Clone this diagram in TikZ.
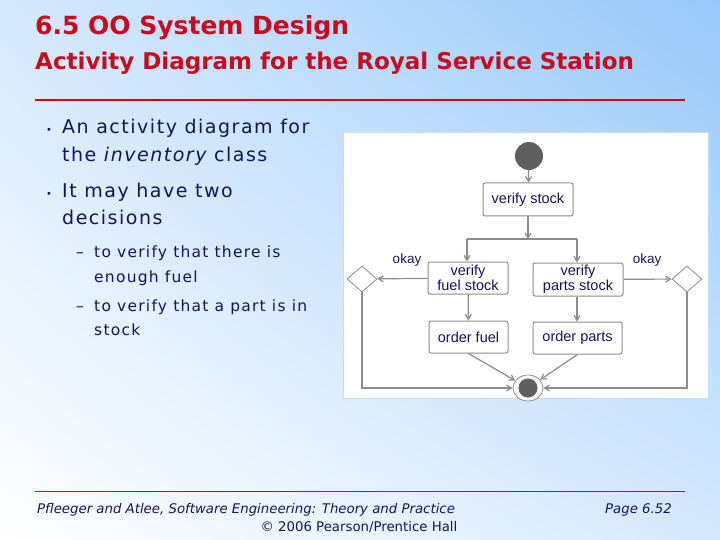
\documentclass[tikz,border=0pt]{standalone}
\usepackage{fontspec}
\setmainfont{DejaVu Sans}
\newfontfamily\arialf{Liberation Sans}
\newfontfamily\spacedf[LetterSpace=8]{DejaVu Sans}
\usetikzlibrary{shapes.geometric,arrows.meta,shadings}
\definecolor{ttl}{RGB}{200,10,30}
\definecolor{navy}{RGB}{20,20,90}
\definecolor{bgblue}{RGB}{150,200,250}
\definecolor{ln}{RGB}{140,140,140}
\definecolor{dk}{RGB}{95,95,95}
\tikzset{
 act/.style={draw=ln,line width=1pt,rounded corners=2pt,fill=white,align=center,font=\arialf\fontsize{14.5}{13}\selectfont,text=navy,inner sep=1pt},
 dec/.style={diamond,draw=ln,line width=0.8pt,fill=white,minimum width=30pt,minimum height=26pt,inner sep=0pt},
 fl/.style={draw=ln,line width=1.2pt,-{Straight Barb[length=5pt,width=6pt]}},
 lnn/.style={draw=ln,line width=1.2pt},
 lbl/.style={font=\arialf\fontsize{13.5}{13}\selectfont,text=navy},
 btxt/.style={anchor=base west,text=navy,font=\spacedf\fontsize{19}{20}\selectfont,inner sep=0pt},
 stxt/.style={anchor=base west,text=navy,font=\spacedf\fontsize{15.5}{17}\selectfont,inner sep=0pt},
 ftxt/.style={text=navy,font=\fontsize{13.3}{14}\selectfont,inner sep=0pt},
}
\begin{document}
\begin{tikzpicture}[x=1pt,y=-1pt]
\useasboundingbox (0,0) rectangle (720,540);
\shade[lower left=white,upper right=bgblue,lower right=white!60!bgblue,upper left=white!60!bgblue] (0,0) rectangle (720,540);
\node[anchor=base west,text=ttl,font=\fontsize{25}{26}\selectfont\bfseries,inner sep=0pt] (t1) at (35,35) {6.5 OO System Design};
\node[anchor=base west,text=ttl,font=\fontsize{23}{24}\selectfont\bfseries,inner sep=0pt] (t2) at (35,70) {Activity Diagram for the Royal Service Station};
\draw[ttl,line width=1.2pt] (35,100) -- (685,100);
\node[btxt] (b1) at (46,134) {\fontsize{10}{10}\selectfont•};
\node[btxt] (b1a) at (62,134) {An activity diagram for};
\node[btxt] (b1b) at (62,162) {the {\itshape inventory} class};
\node[btxt] (b2) at (46,197) {\fontsize{10}{10}\selectfont•};
\node[btxt] (b2a) at (62,197) {It may have two};
\node[btxt] (b2b) at (62,225) {decisions};
\node[stxt] (s1) at (76,258) {–};
\node[stxt] (s1a) at (94,258) {to verify that there is};
\node[stxt] (s1b) at (94,282) {enough fuel};
\node[stxt] (s2) at (76,311) {–};
\node[stxt] (s2a) at (94,311) {to verify that a part is in};
\node[stxt] (s2b) at (94,335) {stock};
% panel
\draw[fill=white,draw=bgblue!60] (343,132) rectangle (708,398);
\node[circle,fill=dk,minimum size=28pt,inner sep=0pt] (st) at (529,156) {};
\node[act,minimum width=90pt,minimum height=33pt] (vs) at (528,199.5) {verify stock};
\coordinate (j) at (528,239);
\coordinate (jl) at (467,239);
\coordinate (jr) at (577,239);
\node[act,minimum width=80pt,minimum height=32pt] (vf) at (468,278) {verify\\fuel stock};
\node[act,minimum width=90pt,minimum height=33pt] (vp) at (578,279.5) {verify\\parts stock};
\node[act,minimum width=79pt,minimum height=32pt] (of) at (468.5,337) {order fuel};
\node[act,minimum width=89pt,minimum height=32pt] (op) at (577.5,338) {order parts};
\node[dec] (dl) at (362,279) {};
\node[dec] (dr) at (687,279) {};
\node[ellipse,draw=ln,line width=0.8pt,fill=white,minimum width=30pt,minimum height=26pt,inner sep=0pt] (en) at (528,388) {};
\node[circle,fill=dk,minimum size=19pt,inner sep=0pt] (eni) at (528,388) {};
\node[lbl] (ok1) at (407,260) {okay};
\node[lbl] (ok2) at (647,260) {okay};
\draw[fl] (st) -- (vs);
\draw[fl] (vs) -- (j);
\draw[lnn] (jl) -- (jr);
\draw[fl] (jl) -- (vf.north-|jl);
\draw[fl] (jr) -- (vp.north-|jr);
\draw[fl] (vf) -- (dl);
\draw[fl] (vp) -- (dr);
\draw[fl] (vf) -- (of);
\draw[fl] (vp.south-|jr) -- (op.north-|jr);
\draw[fl] (of.south) -- (en);
\draw[fl] (op.south) -- (en);
\draw[fl] (dl.south) |- (en.west);
\draw[fl] (dr.south) |- (en.east);
% footer
\draw[ttl,line width=0.8pt] (35,491) -- (685,491);
\node[ftxt,anchor=base west,font=\fontsize{13.3}{14}\selectfont\itshape] (f1) at (37,513) {Pfleeger and Atlee, Software Engineering: Theory and Practice};
\node[ftxt,anchor=base east,font=\fontsize{13.3}{14}\selectfont\itshape] (f2) at (672,513) {Page 6.52};
\node[ftxt,anchor=base] (f3) at (359,531) {© 2006 Pearson/Prentice Hall};
\end{tikzpicture}
\end{document}
